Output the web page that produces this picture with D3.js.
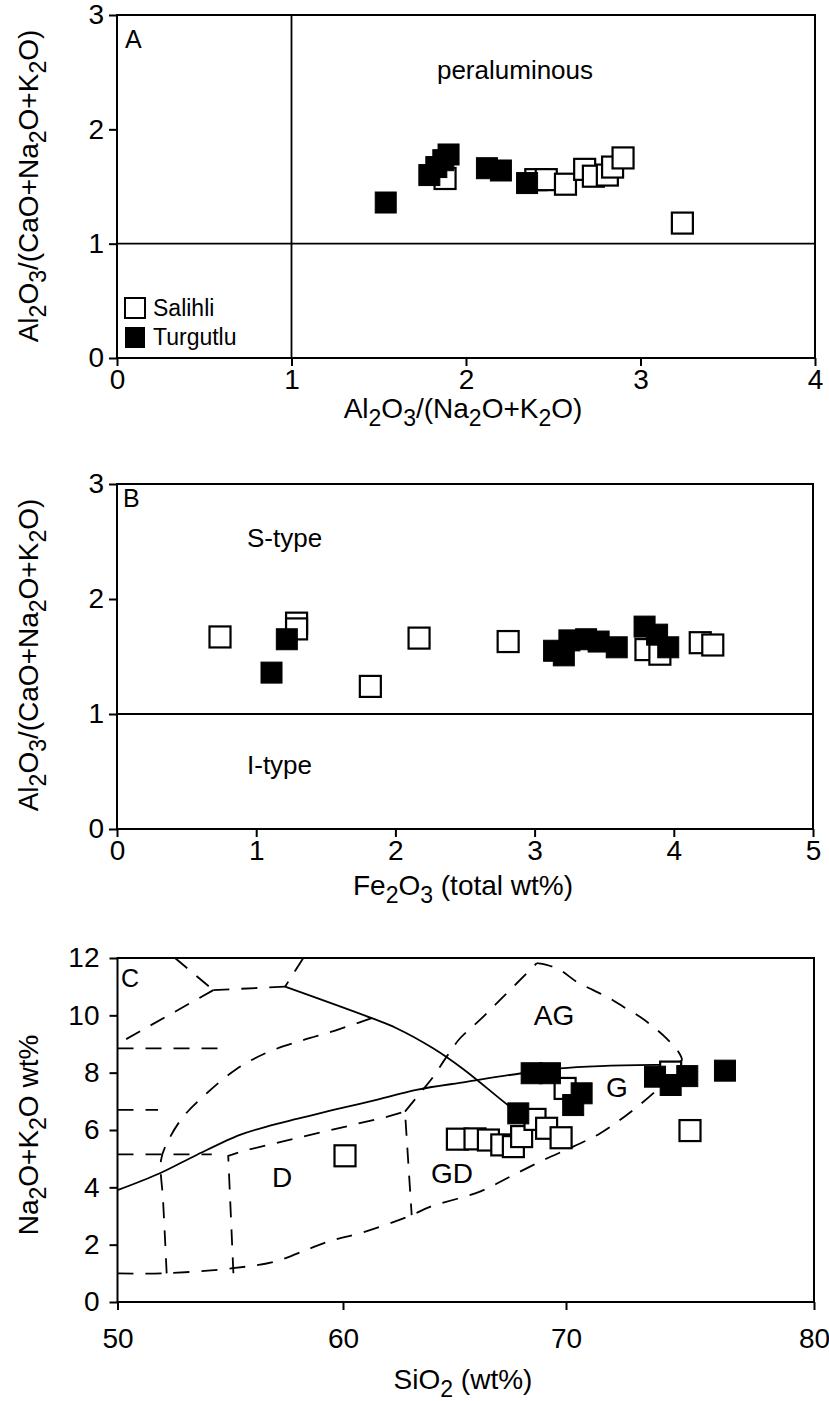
<!DOCTYPE html>
<html>
<head>
<meta charset="utf-8">
<script src="https://cdn.jsdelivr.net/npm/d3@7"></script>
<style>
  body { margin: 0; background: #fff; }
  text { font-family: "Liberation Sans", Arial, sans-serif; fill: #000; }
</style>
</head>
<body>
<div id="chart"></div>
<script>
// ---- data ----
// panel A: Al2O3/(Na2O+K2O) vs Al2O3/(CaO+Na2O+K2O)
var salihliA = [[1.88,1.57],[2.40,1.56],[2.46,1.56],[2.57,1.52],[2.68,1.65],[2.73,1.59],[2.81,1.60],[2.84,1.67],[2.90,1.75],[3.24,1.18]];
var turgutluA = [[1.54,1.36],[1.79,1.60],[1.83,1.67],[1.87,1.73],[1.90,1.78],[2.12,1.66],[2.20,1.64],[2.35,1.53]];
var ticksAx = [0,1,2,3,4];
var ticksAy = [0,1,2,3];

// panel B: Fe2O3 vs A/CNK
var salihliB = [[0.74,1.67],[1.29,1.79],[1.29,1.74],[1.82,1.24],[2.17,1.66],[2.81,1.63],[3.80,1.56],[3.90,1.52],[4.19,1.62],[4.28,1.60]];
var turgutluB = [[1.11,1.36],[1.22,1.65],[3.14,1.55],[3.21,1.51],[3.25,1.64],[3.37,1.65],[3.46,1.63],[3.59,1.58],[3.79,1.76],[3.88,1.69],[3.96,1.58]];
var ticksBx = [0,1,2,3,4,5];
var ticksBy = [0,1,2,3];

// panel C: SiO2 vs Na2O+K2O
var salihliC = [[60.09,5.10],[65.13,5.68],[65.92,5.69],[66.52,5.65],[67.12,5.48],[67.64,5.42],[68.01,5.77],[68.61,6.37],[69.13,6.06],[69.78,5.73],[69.96,7.45],[74.22,8.02],[75.0,5.98]];
var turgutluC = [[67.86,6.58],[68.46,7.98],[69.28,7.98],[70.29,6.87],[70.63,7.28],[73.59,7.86],[74.22,7.57],[74.89,7.88],[76.41,8.07]];
var ticksCx = [50,60,70,80];
var ticksCy = [0,2,4,6,8,10,12];

// field boundaries of panel C (SiO2, Na2O+K2O)
var dashedStraight = [
  [[52.55,12.0],[54.25,10.88]],
  [[54.25,10.88],[57.43,11.0]],
  [[58.24,12.0],[57.43,11.0]],
  [[54.25,10.88],[50,9.0]],
  [[50,8.85],[54.91,8.85]],
  [[50,6.7],[51.8,6.7]],
  [[50,5.15],[54.18,5.15]],
  [[55.14,1.0],[54.91,5.1],[55.73,5.30],[61.96,6.46],[62.78,6.64],[63.08,3.03]]
];
var dashedCurved = [
  [[61.29,9.90],[59.65,9.47],[58.09,9.10],[56.59,8.69],[55.25,8.11],[53.97,7.29],[52.90,6.45],[52.20,5.55],[51.93,4.95],[52.02,3.56],[52.11,2.16],[52.18,1.0]],
  [[50,1.0],[52.06,1.0],[55.12,1.18],[56.98,1.41],[58.54,1.87],[59.56,2.16],[60.76,2.40],[63.08,3.03],[63.90,3.32],[66.14,3.85],[67.49,4.37],[68.98,4.95],[70.29,5.42],[71.37,5.88],[72.71,6.70],[73.79,7.51],[74.40,8.16]],
  [[62.78,6.64],[63.45,7.28],[64.05,7.86],[64.65,8.56],[65.25,9.20],[66.14,9.84],[67.19,10.65],[68.69,11.82]],
  [[68.69,11.82],[69.13,11.76],[69.73,11.58],[70.43,11.17],[71.10,10.88],[71.77,10.59],[72.31,10.30],[72.98,9.95],[73.52,9.60],[74.06,9.19],[74.53,8.73],[74.67,8.44],[74.46,8.33]]
];
var solidLines = [
  [[57.43,11.0],[61.29,9.90],[62.4,9.55],[64.04,8.85],[65.4,8.12],[67.49,6.81],[69.13,5.88],[70.16,5.36]],
  [[50,3.9],[51.88,4.49],[53.51,5.13],[55.43,5.83],[56.62,6.12],[58.09,6.41],[59.57,6.70],[61.50,7.05],[63.29,7.40],[65.53,7.68],[68.01,7.98],[69.73,8.15],[71.37,8.23],[73.52,8.27],[74.60,8.27]]
];

// ---- drawing ----
var svg = d3.select("#chart").append("svg")
  .attr("width", 829)
  .attr("height", 1401);

svg.append("rect").attr("width", 829).attr("height", 1401).attr("fill", "#fff");

var markSize = 21;

// text with subscripts: parts like ["Al", "_2", "O", "_3"]
function subText(sel, parts, subSize, shift) {
  var low = false;
  parts.forEach(function(p) {
    if (p[0] === "_") {
      sel.append("tspan").attr("font-size", subSize).attr("dy", low ? 0 : shift).text(p.slice(1));
      low = true;
    } else {
      sel.append("tspan").attr("dy", low ? -shift : 0).text(p);
      low = false;
    }
  });
}

function panel(x, y, xt, yt, opt) {
  var g = svg.append("g");

  var bottomAxis = d3.axisBottom(x).tickValues(xt).tickFormat(d3.format("d"))
    .tickSize(8).tickSizeOuter(0).tickPadding(opt.xPad);
  var leftAxis = d3.axisLeft(y).tickValues(yt).tickFormat(d3.format("d"))
    .tickSize(8).tickSizeOuter(0).tickPadding(opt.yPad);

  var ax = g.append("g")
    .attr("transform", `translate(0, ${y.range()[0]})`)
    .call(bottomAxis);
  var ay = g.append("g")
    .attr("transform", `translate(${x.range()[0]}, 0)`)
    .call(leftAxis);

  [ax, ay].forEach(function(a) {
    a.select(".domain").remove();
    a.selectAll("line").attr("stroke", "#000").attr("stroke-width", 2);
    a.selectAll("text")
      .attr("font-family", "Liberation Sans, Arial, sans-serif")
      .attr("font-size", 28)
      .attr("fill", "#000");
  });

  var x0 = x.range()[0], x1 = x.range()[x.range().length - 1];
  var y0 = y.range()[0], y1 = y.range()[y.range().length - 1];
  g.append("rect")
    .attr("x", x0).attr("y", y1)
    .attr("width", x1 - x0).attr("height", y0 - y1)
    .attr("fill", "none").attr("stroke", "#000").attr("stroke-width", 2);
  return g;
}

function points(g, x, y, open, filled) {
  g.selectAll(".open").data(open).enter().append("rect")
    .attr("x", d => x(d[0]) - markSize / 2)
    .attr("y", d => y(d[1]) - markSize / 2)
    .attr("width", markSize).attr("height", markSize)
    .attr("fill", "#fff").attr("stroke", "#000").attr("stroke-width", 2.2);
  g.selectAll(".filled").data(filled).enter().append("rect")
    .attr("x", d => x(d[0]) - markSize / 2)
    .attr("y", d => y(d[1]) - markSize / 2)
    .attr("width", markSize).attr("height", markSize)
    .attr("fill", "#000").attr("stroke", "#000").attr("stroke-width", 1);
}

// Panel A
var xA = d3.scaleLinear().domain([0, 4]).range([117, 815]);
var yA = d3.scaleLinear().domain([0, 3]).range([358, 15]);
var gA = panel(xA, yA, ticksAx, ticksAy, {xPad: 3, yPad: 5});
gA.append("line").attr("x1", xA(1)).attr("x2", xA(1)).attr("y1", yA(0)).attr("y2", yA(3))
  .attr("stroke", "#000").attr("stroke-width", 1.8);
gA.append("line").attr("x1", xA(0)).attr("x2", xA(4)).attr("y1", yA(1)).attr("y2", yA(1))
  .attr("stroke", "#000").attr("stroke-width", 1.8);
points(gA, xA, yA, salihliA, turgutluA);
gA.append("text").attr("x", 125).attr("y", 48).attr("font-size", 25).text("A");
gA.append("text").attr("x", 515).attr("y", 79).attr("font-size", 26).attr("text-anchor", "middle").text("peraluminous");
// legend
gA.append("rect").attr("x", 125).attr("y", 298).attr("width", 20).attr("height", 20)
  .attr("fill", "#fff").attr("stroke", "#000").attr("stroke-width", 2);
gA.append("rect").attr("x", 125).attr("y", 327).attr("width", 20).attr("height", 21)
  .attr("fill", "#000");
gA.append("text").attr("x", 153).attr("y", 316).attr("font-size", 23).text("Salihli");
gA.append("text").attr("x", 153).attr("y", 345).attr("font-size", 23).text("Turgutlu");

var tA = gA.append("text").attr("x", 463).attr("y", 418).attr("font-size", 28).attr("text-anchor", "middle");
subText(tA, ["Al", "_2", "O", "_3", "/(Na", "_2", "O+K", "_2", "O)"], 23, 8);
var tAy = gA.append("text").attr("transform", "translate(38,186) rotate(-90)").attr("font-size", 28).attr("text-anchor", "middle");
subText(tAy, ["Al", "_2", "O", "_3", "/(CaO+Na", "_2", "O+K", "_2", "O)"], 23, 8);

// Panel B
var xB = d3.scaleLinear().domain([0, 5]).range([117, 813]);
var yB = d3.scaleLinear().domain([0, 3]).range([829, 484]);
var gB = panel(xB, yB, ticksBx, ticksBy, {xPad: 3, yPad: 5});
gB.append("line").attr("x1", xB(0)).attr("x2", xB(5)).attr("y1", yB(1)).attr("y2", yB(1))
  .attr("stroke", "#000").attr("stroke-width", 1.8);
points(gB, xB, yB, salihliB, turgutluB);
gB.append("text").attr("x", 123).attr("y", 507).attr("font-size", 25).text("B");
gB.append("text").attr("x", 247).attr("y", 547).attr("font-size", 26).text("S-type");
gB.append("text").attr("x", 247).attr("y", 774).attr("font-size", 26).text("I-type");
var tB = gB.append("text").attr("x", 463).attr("y", 895).attr("font-size", 28).attr("text-anchor", "middle");
subText(tB, ["Fe", "_2", "O", "_3", " (total wt%)"], 23, 8);
var tBy = gB.append("text").attr("transform", "translate(38,655) rotate(-90)").attr("font-size", 28).attr("text-anchor", "middle");
subText(tBy, ["Al", "_2", "O", "_3", "/(CaO+Na", "_2", "O+K", "_2", "O)"], 23, 8);

// Panel C
var xC = d3.scaleLinear().domain([50, 60, 70, 80]).range([117.5, 343, 566, 814]);
var yC = d3.scaleLinear().domain([0, 12]).range([1302, 958]);
var gC = panel(xC, yC, ticksCx, ticksCy, {xPad: 18, yPad: 10});

var lineStraight = d3.line().x(d => xC(d[0])).y(d => yC(d[1]));
var lineCurved = d3.line().x(d => xC(d[0])).y(d => yC(d[1])).curve(d3.curveCatmullRom.alpha(0.5));

gC.selectAll(".ds").data(dashedStraight).enter().append("path")
  .attr("d", lineStraight)
  .attr("fill", "none").attr("stroke", "#000").attr("stroke-width", 1.8)
  .attr("stroke-dasharray", "16,12");
gC.selectAll(".dc").data(dashedCurved).enter().append("path")
  .attr("d", lineCurved)
  .attr("fill", "none").attr("stroke", "#000").attr("stroke-width", 1.8)
  .attr("stroke-dasharray", "16,12");
gC.selectAll(".sl").data(solidLines).enter().append("path")
  .attr("d", lineCurved)
  .attr("fill", "none").attr("stroke", "#000").attr("stroke-width", 1.8);

points(gC, xC, yC, salihliC, turgutluC);

gC.append("text").attr("x", 121).attr("y", 987).attr("font-size", 25).text("C");
gC.append("text").attr("x", 554).attr("y", 1025).attr("font-size", 28).attr("text-anchor", "middle").text("AG");
gC.append("text").attr("x", 617).attr("y", 1097).attr("font-size", 28).attr("text-anchor", "middle").text("G");
gC.append("text").attr("x", 452).attr("y", 1183).attr("font-size", 28).attr("text-anchor", "middle").text("GD");
gC.append("text").attr("x", 282).attr("y", 1187).attr("font-size", 28).attr("text-anchor", "middle").text("D");

var tC = gC.append("text").attr("x", 463).attr("y", 1389).attr("font-size", 28).attr("text-anchor", "middle");
subText(tC, ["SiO", "_2", " (wt%)"], 23, 8);
var tCy = gC.append("text").attr("transform", "translate(38,1135) rotate(-90)").attr("font-size", 28).attr("text-anchor", "middle");
subText(tCy, ["Na", "_2", "O+K", "_2", "O wt%"], 23, 8);
</script>
</body>
</html>
